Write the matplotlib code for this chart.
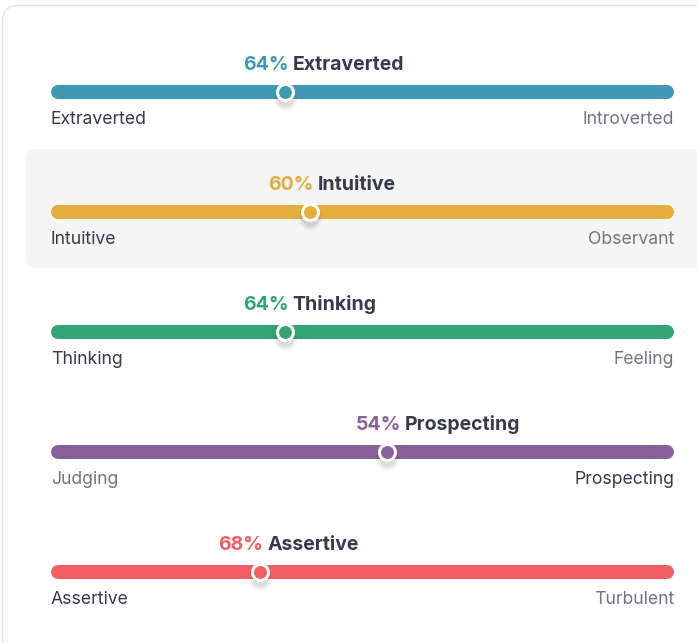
import matplotlib
matplotlib.use('Agg')
import matplotlib.pyplot as plt
from matplotlib.patches import FancyBboxPatch
import numpy as np

plt.rcParams['font.family'] = ['Inter', 'DejaVu Sans']

# ---------------------------------------------------------------------------
# data
traits = ['Extraverted', 'Intuitive', 'Thinking', 'Prospecting', 'Assertive']
percents = [64, 60, 64, 54, 68]
left_labels = ['Extraverted', 'Intuitive', 'Thinking', 'Judging', 'Assertive']
right_labels = ['Introverted', 'Observant', 'Feeling', 'Prospecting', 'Turbulent']
dominant_side = ['left', 'left', 'left', 'right', 'left']
marker_pos = [37.5, 41.5, 37.5, 54.0, 33.5]   # % along the bar
colors = ['#4298b4', '#e4ae3a', '#33a474', '#88619a', '#f25e62']

dark = '#343c4b'
grey = '#6f7680'

W, H = 697, 643
fig = plt.figure(figsize=(W / 100, H / 100), dpi=100)
fig.patch.set_facecolor('white')

# background (pixel coordinates)
bg = fig.add_axes([0, 0, 1, 1])
bg.set_xlim(0, W)
bg.set_ylim(H, 0)
bg.axis('off')
bg.add_patch(FancyBboxPatch((2.5, 5.5), 760, 700, boxstyle='round,pad=0,rounding_size=16',
                            fc='white', ec='#e3e3e3', lw=1))
bg.add_patch(FancyBboxPatch((26, 149), 720, 119, boxstyle='round,pad=0,rounding_size=10',
                            fc='#f5f5f5', ec='none'))

# bars: x in percent of bar width, y in row index
x0, x1 = 51, 674
row0, step = 92, 120
ax = fig.add_axes([x0 / W, 0, (x1 - x0) / W, 1])
ax.set_xlim(0, 100)
ax.set_ylim((H - row0) / step, -row0 / step)
ax.axis('off')

bar_px = 14
cap = bar_px / 2 / (x1 - x0) * 100
px = 1 / step

for i, t in enumerate(traits):
    c = colors[i]
    ax.plot([cap, 100 - cap], [i, i], color=c, lw=bar_px * 0.72, solid_capstyle='round', zorder=2)
    m = marker_pos[i]
    # soft shadow
    for k, a in zip([24, 20, 16], [0.04, 0.05, 0.06]):
        ax.scatter([m], [i + 6 * px], s=(k * 0.72) ** 2, color='black', alpha=a, lw=0, zorder=3)
    ax.scatter([m], [i], s=(16 * 0.72) ** 2, color=c, edgecolor='white', lw=2.2, zorder=4)

    # title starts a little left of the side's percentage position
    side_pos = percents[i] if dominant_side[i] == 'right' else 100 - percents[i]
    pt = ax.text(side_pos - 5.1, i - 27 * px, '%d%%' % percents[i], color=c, fontsize=14,
                 fontweight='bold', ha='left', va='center')
    ax.annotate(t, xy=(1, 0.5), xycoords=pt, xytext=(2.5, 0), textcoords='offset points',
                color=dark, fontsize=14, fontweight='bold', ha='left', va='center')

    lc = dark if dominant_side[i] == 'left' else grey
    rc = dark if dominant_side[i] == 'right' else grey
    ax.text(0, i + 28 * px, left_labels[i], color=lc, fontsize=12.7, ha='left', va='center')
    ax.text(100, i + 28 * px, right_labels[i], color=rc, fontsize=12.7, ha='right', va='center')

fig.savefig('out.png', dpi=100, facecolor='white')
